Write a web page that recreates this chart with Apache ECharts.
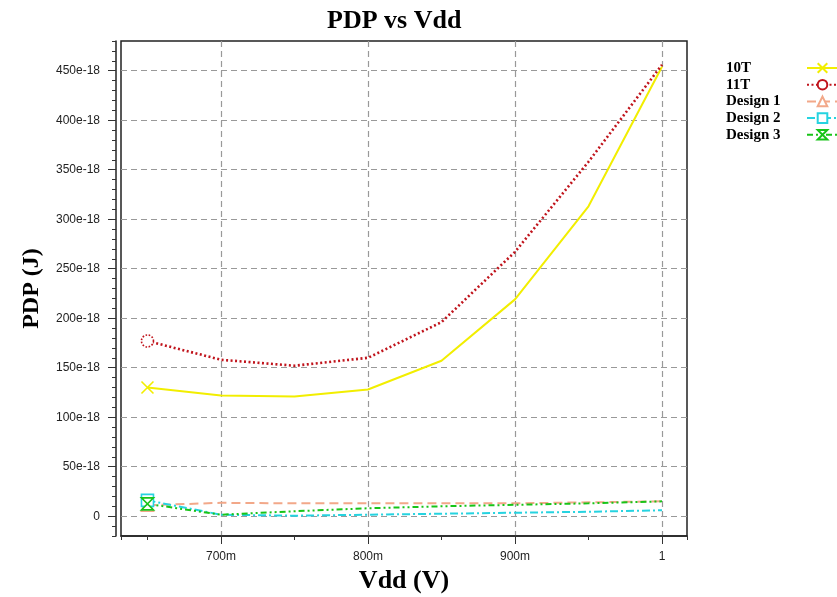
<!DOCTYPE html>
<html>
<head>
<meta charset="utf-8">
<script src="https://cdn.jsdelivr.net/npm/echarts@6/dist/echarts.min.js"></script>
<style>html,body{margin:0;padding:0;background:#fff;}#c{width:837px;height:597px;}</style>
</head>
<body>
<div id="c"></div>
<script>
// ---- data ----
const vdd = [0.65, 0.70, 0.75, 0.80, 0.85, 0.90, 0.95, 1.00];
const pdp10T = [130, 122, 121, 128, 157, 219, 313, 454];
const pdp11T = [177, 158, 152, 160, 196, 267, 358, 456];
const design1 = [11, 13.5, 13, 13, 13, 13, 14, 15];
const design2 = [16, 1.5, 0.5, 1.5, 2.5, 3.5, 4.5, 6];
const design3 = [12.5, 1.5, 5, 8, 10, 11.5, 13, 15];
const seriesNames = ['10T', '11T', 'Design 1', 'Design 2', 'Design 3'];
const yTicks = [0, 50, 100, 150, 200, 250, 300, 350, 400, 450];
const yMinorTicks = [-20,-10,0,10,20,30,40,50,60,70,80,90,100,110,120,130,140,150,160,170,180,190,200,210,220,230,240,250,260,270,280,290,300,310,320,330,340,350,360,370,380,390,400,410,420,430,440,450,460,470,480];
const xTicks = [0.7, 0.8, 0.9, 1.0];
const xMinorTicks = [0.632, 0.65, 0.75, 0.85, 0.95, 1.017];

const pair = arr => vdd.map((x, i) => [x, arr[i]]);
const serif = 'Liberation Serif';
const sans = 'Liberation Sans';

function mkSeries(name, data, color, lineType, width, symbol, borderType) {
  return {
    name: name, type: 'line', data: pair(data),
    xAxisIndex: 0, yAxisIndex: 0,
    color: color,
    symbol: symbol,
    symbolSize: (v, p) => (p.dataIndex === 0 ? 12 : 0),
    lineStyle: { color: color, type: lineType, width: width },
    itemStyle: { color: '#fff', borderColor: color, borderWidth: 1.6, borderType: borderType || 'solid' },
    emphasis: { disabled: true },
    animation: false
  };
}

const chart = echarts.init(document.getElementById('c'));
chart.setOption({
  backgroundColor: '#fff',
  animation: false,
  title: {
    text: 'PDP vs Vdd', left: 322, top: 3,
    textStyle: { fontFamily: serif, fontWeight: 'bold', fontSize: 26, color: '#000' }
  },
  legend: {
    orient: 'vertical', left: 726, top: 60, align: 'right', padding: 0,
    itemWidth: 31, itemHeight: 12, itemGap: 0.7,
    data: seriesNames,
    formatter: n => '{a|' + n + '}',
    textStyle: {
      fontFamily: serif, fontWeight: 'bold', fontSize: 15, color: '#000', lineHeight: 16,
      rich: { a: { width: 76, align: 'left', fontFamily: serif, fontWeight: 'bold', fontSize: 15, color: '#000', lineHeight: 16 } }
    }
  },
  grid: { left: 121, right: 150, top: 41, bottom: 61, show: true, borderColor: '#222', borderWidth: 1.5,
          containLabel: false, outerBoundsMode: 'none' },
  xAxis: [{
    type: 'value', min: 0.632, max: 1.017, position: 'bottom',
    name: 'Vdd (V)', nameLocation: 'middle', nameGap: 32,
    nameTextStyle: { fontFamily: serif, fontWeight: 'bold', fontSize: 26, color: '#000' },
    axisLine: { show: true, onZero: false, lineStyle: { color: '#222', width: 1.5 } },
    axisTick: { show: true, inside: false, length: 8, customValues: xTicks, lineStyle: { color: '#333' } },
    axisLabel: { show: true, customValues: xTicks, margin: 15, fontFamily: sans, fontSize: 12, color: '#222',
      formatter: v => (Math.abs(v - 1) < 1e-9 ? '1' : Math.round(v * 1000) + 'm') },
    splitLine: { show: true, lineStyle: { color: '#999', type: [6, 4], width: 1.2 } }
  }, {
    type: 'value', min: 0.632, max: 1.017, position: 'bottom',
    axisLine: { show: false, onZero: false },
    axisTick: { show: true, length: 4, customValues: xMinorTicks, lineStyle: { color: '#333' } },
    axisLabel: { show: false },
    splitLine: { show: false }
  }],
  yAxis: [{
    type: 'value', min: -20, max: 480, position: 'left', offset: 5,
    name: 'PDP (J)', nameLocation: 'middle', nameGap: 72, nameRotate: 90,
    nameTextStyle: { fontFamily: serif, fontWeight: 'bold', fontSize: 24, color: '#000' },
    axisLine: { show: true, onZero: false, lineStyle: { color: '#222', width: 1.5 } },
    axisTick: { show: true, length: 8, customValues: yTicks, lineStyle: { color: '#333' } },
    axisLabel: { show: true, customValues: yTicks, margin: 16, fontFamily: sans, fontSize: 12, color: '#222',
      formatter: v => (v === 0 ? '0' : v + 'e-18') },
    splitLine: { show: true, lineStyle: { color: '#999', type: [6, 4], width: 1.2 } }
  }, {
    type: 'value', min: -20, max: 480, position: 'left', offset: 5,
    axisLine: { show: false, onZero: false },
    axisTick: { show: true, length: 4, customValues: yMinorTicks, lineStyle: { color: '#333' } },
    axisLabel: { show: false },
    splitLine: { show: false }
  }],
  series: [
    mkSeries('10T', pdp10T, '#f2ee00', 'solid', 2, 'path://M0,0L10,10M10,0L0,10'),
    mkSeries('11T', pdp11T, '#c0141c', [2, 2.5], 2.6, 'circle', 'dotted'),
    mkSeries('Design 1', design1, '#f2a889', [9, 5], 2, 'triangle'),
    mkSeries('Design 2', design2, '#26d3e0', [8, 3, 2, 3], 2, 'rect'),
    mkSeries('Design 3', design3, '#18c418', [6, 3, 2, 3, 2, 3], 2, 'path://M0,0L10,0L0,10L10,10Z')
  ]
});
</script>
</body>
</html>
